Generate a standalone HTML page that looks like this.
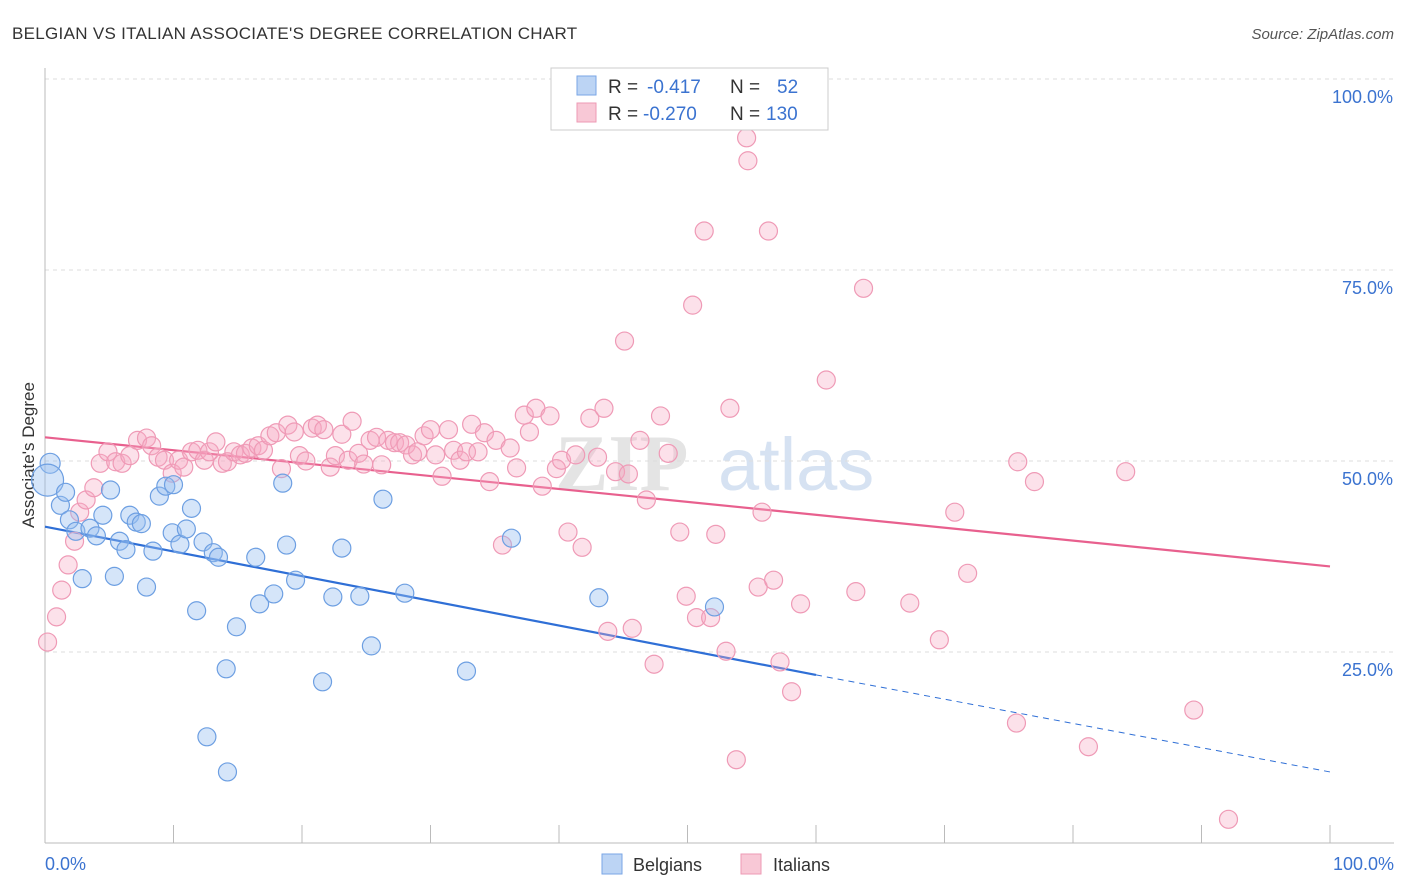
<!DOCTYPE html>
<html><head><meta charset="utf-8"><style>
body{margin:0;background:#fff;font-family:"Liberation Sans",sans-serif;}
svg{display:block}
</style></head><body>
<svg id="chart" width="1406" height="892">
<text x="12" y="39" font-size="17" fill="#333" letter-spacing="0.3">BELGIAN VS ITALIAN ASSOCIATE'S DEGREE CORRELATION CHART</text>
<text x="1394" y="39" font-size="15" fill="#555" font-style="italic" text-anchor="end">Source: ZipAtlas.com</text>
<text x="0" y="0" transform="translate(34,455) rotate(-90)" font-size="17" fill="#333" text-anchor="middle">Associate's Degree</text>
<g><text x="555" y="490" font-size="80" fill="#e4e4e4" font-family="Liberation Serif,serif" font-weight="bold">ZIP</text><text x="718" y="490" font-size="74" fill="#d6e2f2">atlas</text></g>
<g id="grid"></g><g id="axes"></g><g id="trends"></g><g id="pts"></g>
<g>
<rect x="551" y="68" width="277" height="62" fill="#fff" stroke="#ccc"/>
<rect x="577" y="76" width="19" height="19" fill="#bcd4f4" stroke="#7aa6e6"/>
<text x="608" y="93" font-size="19" fill="#333">R = </text><text x="647" y="93" font-size="19" fill="#3b73d0">-0.417</text>
<text x="730" y="93" font-size="19" fill="#333">N = </text><text x="777" y="93" font-size="19" fill="#3b73d0">52</text>
<rect x="577" y="103" width="19" height="19" fill="#f8c8d6" stroke="#ee9ab4"/>
<text x="608" y="120" font-size="19" fill="#333">R = </text><text x="643" y="120" font-size="19" fill="#3b73d0">-0.270</text>
<text x="730" y="120" font-size="19" fill="#333">N = </text><text x="766" y="120" font-size="19" fill="#3b73d0">130</text>
</g>
<g>
<rect x="602" y="854" width="20" height="20" fill="#bcd4f4" stroke="#7aa6e6"/><text x="633" y="871" font-size="18" fill="#333">Belgians</text>
<rect x="741" y="854" width="20" height="20" fill="#f8c8d6" stroke="#ee9ab4"/><text x="773" y="871" font-size="18" fill="#333">Italians</text>
</g>
</svg>
<script>
const xTickLabels=["0.0%","100.0%"];
const yTicks=[25,50,75,100];
const yTickLabels=["25.0%","50.0%","75.0%","100.0%"];
const belX=[0.4,0.2,1.2,1.6,1.9,2.4,2.9,3.5,4.0,4.5,5.1,5.4,5.8,6.3,6.6,7.1,7.5,7.9,8.4,8.9,9.4,10.0,9.9,10.5,11.0,11.4,11.8,12.3,13.1,13.5,14.1,14.9,12.6,14.2,16.4,16.7,17.8,18.5,18.8,19.5,21.6,22.4,23.1,24.5,25.4,26.3,28.0,32.8,36.3,43.1,52.1];
const belY=[49.7,47.5,44.2,45.9,42.3,40.8,34.6,41.2,40.2,42.9,46.2,34.9,39.5,38.4,42.9,42.0,41.8,33.5,38.2,45.4,46.7,46.9,40.6,39.1,41.1,43.8,30.4,39.4,38.0,37.4,22.8,28.3,13.9,9.3,37.4,31.3,32.6,47.1,39.0,34.4,21.1,32.2,38.6,32.3,25.8,45.0,32.7,22.5,39.9,32.1,30.9];
const itaX=[0.2,0.9,1.3,1.8,2.3,2.7,3.2,3.8,4.3,4.9,5.5,6.0,6.6,7.2,7.9,8.3,8.8,9.3,9.9,10.4,10.8,11.4,11.9,12.4,12.8,13.3,13.8,14.2,14.7,15.2,15.6,16.1,16.6,17.0,17.5,18.0,18.4,18.9,19.4,19.8,20.3,20.8,21.2,21.7,22.2,22.6,23.1,23.6,23.9,24.4,24.8,25.3,25.8,26.2,26.7,27.2,27.6,28.1,28.6,29.0,29.5,30.0,30.4,30.9,31.4,31.8,32.3,32.8,33.2,33.7,34.2,34.6,35.1,35.6,36.2,36.7,37.3,37.7,38.2,38.7,39.3,39.8,40.2,40.7,41.3,41.8,42.4,43.0,43.5,43.8,44.4,45.1,45.4,45.7,46.3,46.8,47.4,47.9,48.5,49.4,49.9,50.4,50.7,51.3,51.8,52.2,53.0,53.3,53.8,54.6,54.7,55.5,55.8,56.3,56.7,57.2,58.1,58.8,60.8,63.1,63.7,67.3,69.6,70.8,71.8,75.6,75.7,77.0,81.2,84.1,89.4,92.1];
const itaY=[26.3,29.6,33.1,36.4,39.5,43.3,44.9,46.5,49.7,51.2,49.9,49.7,50.7,52.7,53.0,52.0,50.5,50.1,48.4,50.1,49.2,51.2,51.4,50.1,51.2,52.5,49.7,49.9,51.2,50.8,51.0,51.7,52.0,51.4,53.3,53.7,49.0,54.7,53.8,50.7,50.0,54.3,54.7,54.1,49.2,50.7,53.5,50.1,55.2,51.0,49.6,52.7,53.1,49.5,52.7,52.4,52.4,52.1,50.8,51.2,53.3,54.1,50.8,48.0,54.1,51.4,50.1,51.2,54.8,51.2,53.7,47.3,52.7,39.0,51.7,49.1,56.0,53.8,56.9,46.7,55.9,49.0,50.1,40.7,50.8,38.7,55.6,50.5,56.9,27.7,48.6,65.7,48.3,28.1,52.7,44.9,23.4,55.9,51.0,40.7,32.3,70.4,29.5,80.1,29.5,40.4,25.1,56.9,10.9,92.3,89.3,33.5,43.3,80.1,34.4,23.7,19.8,31.3,60.6,32.9,72.6,31.4,26.6,43.3,35.3,15.7,49.9,47.3,12.6,48.6,17.4,3.1];
const belTrend=[0,41.4,60,22.0,100,9.3];
const itaTrend=[0,53.1,100,36.2];
const X=v=>45+v*12.85, Y=v=>843-v*7.64;
const NS="http://www.w3.org/2000/svg";
function mk(tag,at,parent){const e=document.createElementNS(NS,tag);for(const k in at)e.setAttribute(k,at[k]);document.getElementById(parent).appendChild(e);return e;}
yTicks.forEach((t,i)=>{
 const g=mk('line',{x1:45,x2:1394,y1:Y(t),y2:Y(t),stroke:'#ddd','stroke-dasharray':'4,4'},'grid');
 
 
 const l=mk('text',{x:1393,y:Y(t)+24,'font-size':18,fill:'#3b73d0','text-anchor':'end'},'grid');
 l.textContent=yTickLabels[i];
 
 
});
const ax=mk('line',{x1:45,x2:1394,y1:843,y2:843,stroke:'#bbb'},'axes');


const ay=mk('line',{x1:45,x2:45,y1:68,y2:843,stroke:'#bbb'},'axes');


for(let i=0;i<=10;i++){const t=mk('line',{x1:X(i*10),x2:X(i*10),y1:825,y2:843,stroke:'#bbb'},'axes');
 
 }
[[0,'start',45],[100,'end',1394]].forEach((a,i)=>{const t=mk('text',{x:a[2],y:870,'font-size':18,fill:'#3b73d0','text-anchor':a[1]},'axes');t.textContent=xTickLabels[i];
 
 });
const bt1=mk('line',{x1:X(belTrend[0]),y1:Y(belTrend[1]),x2:X(belTrend[2]),y2:Y(belTrend[3]),stroke:'#2f6fd6','stroke-width':2.2},'trends');


const bt2=mk('line',{x1:X(belTrend[2]),y1:Y(belTrend[3]),x2:X(belTrend[4]),y2:Y(belTrend[5]),stroke:'#2f6fd6','stroke-width':1,'stroke-dasharray':'6,5'},'trends');


const it=mk('line',{x1:X(itaTrend[0]),y1:Y(itaTrend[1]),x2:X(itaTrend[2]),y2:Y(itaTrend[3]),stroke:'#e8608e','stroke-width':2.2},'trends');


itaX.forEach((x,i)=>{const c=mk('circle',{cx:X(x),cy:Y(itaY[i]),r:9,fill:'rgba(246,170,196,0.35)',stroke:'#ef9ab6','stroke-width':1.2},'pts');
 
 });
belX.forEach((x,i)=>{const c=mk('circle',{cx:X(x),cy:Y(belY[i]),r:i==1?16:(i==0?10:9),fill:'rgba(150,190,240,0.4)',stroke:'#6d9fe2','stroke-width':1.2},'pts');
 
 });
</script>
</body></html>
